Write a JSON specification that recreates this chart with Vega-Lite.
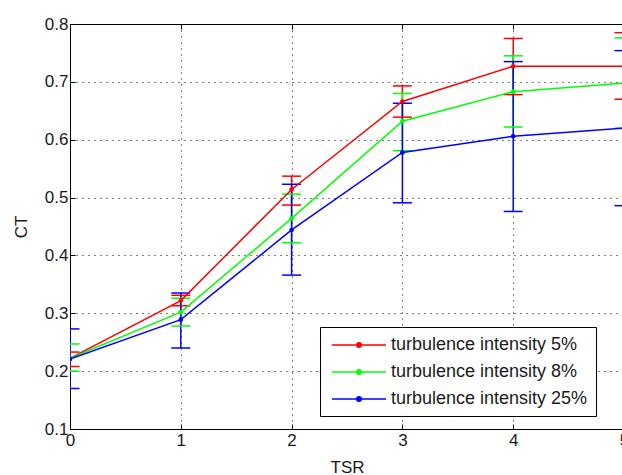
{
  "$schema": "https://vega.github.io/schema/vega-lite/v6.json",
  "width": 554,
  "height": 405,
  "autosize": {"type": "none"},
  "padding": {"left": 70, "top": 24, "right": 0, "bottom": 46},
  "background": "white",
  "data": {
    "values": [
      {"series": "turbulence intensity 5%", "TSR": 0, "CT": 0.222, "lo": 0.208, "hi": 0.233},
      {"series": "turbulence intensity 5%", "TSR": 1, "CT": 0.322, "lo": 0.313, "hi": 0.331},
      {"series": "turbulence intensity 5%", "TSR": 2, "CT": 0.514, "lo": 0.487, "hi": 0.537},
      {"series": "turbulence intensity 5%", "TSR": 3, "CT": 0.666, "lo": 0.639, "hi": 0.693},
      {"series": "turbulence intensity 5%", "TSR": 4, "CT": 0.727, "lo": 0.678, "hi": 0.775},
      {"series": "turbulence intensity 5%", "TSR": 5, "CT": 0.727, "lo": 0.670, "hi": 0.785},
      {"series": "turbulence intensity 8%", "TSR": 0, "CT": 0.222, "lo": 0.200, "hi": 0.247},
      {"series": "turbulence intensity 8%", "TSR": 1, "CT": 0.302, "lo": 0.278, "hi": 0.326},
      {"series": "turbulence intensity 8%", "TSR": 2, "CT": 0.464, "lo": 0.422, "hi": 0.506},
      {"series": "turbulence intensity 8%", "TSR": 3, "CT": 0.632, "lo": 0.581, "hi": 0.680},
      {"series": "turbulence intensity 8%", "TSR": 4, "CT": 0.683, "lo": 0.622, "hi": 0.745},
      {"series": "turbulence intensity 8%", "TSR": 5, "CT": 0.698, "lo": 0.620, "hi": 0.776},
      {"series": "turbulence intensity 25%", "TSR": 0, "CT": 0.221, "lo": 0.170, "hi": 0.273},
      {"series": "turbulence intensity 25%", "TSR": 1, "CT": 0.289, "lo": 0.240, "hi": 0.335},
      {"series": "turbulence intensity 25%", "TSR": 2, "CT": 0.444, "lo": 0.366, "hi": 0.523},
      {"series": "turbulence intensity 25%", "TSR": 3, "CT": 0.578, "lo": 0.491, "hi": 0.663},
      {"series": "turbulence intensity 25%", "TSR": 4, "CT": 0.606, "lo": 0.476, "hi": 0.735},
      {"series": "turbulence intensity 25%", "TSR": 5, "CT": 0.620, "lo": 0.486, "hi": 0.754}
    ]
  },
  "encoding": {
    "color": {
      "field": "series",
      "type": "nominal",
      "sort": null,
      "scale": {
        "domain": ["turbulence intensity 5%", "turbulence intensity 8%", "turbulence intensity 25%"],
        "range": ["#ff0000", "#00ff00", "#0000ff"]
      },
      "legend": {
        "title": null,
        "orient": "none",
        "legendX": 250,
        "legendY": 303,
        "strokeColor": "#000000",
        "fillColor": "#ffffff",
        "padding": 8,
        "rowPadding": 8,
        "labelFont": "Liberation Sans",
        "labelFontSize": 18,
        "labelLimit": 0,
        "labelColor": "#1a1a1a",
        "symbolType": "M-3,0H3M-0.25,0A0.25,0.25,0,1,0,0.25,0A0.25,0.25,0,1,0,-0.25,0Z",
        "symbolSize": 324,
        "symbolStrokeWidth": 1.5,
        "symbolOffset": 21,
        "labelOffset": 22,
        "encode": {
          "symbols": {
            "update": {
              "fill": {"scale": "color", "field": "value"},
              "stroke": {"scale": "color", "field": "value"},
              "opacity": {"value": 1}
            }
          }
        }
      }
    }
  },
  "layer": [
    {
      "mark": {"type": "rule", "strokeWidth": 1.5, "clip": true},
      "encoding": {
        "x": {
          "field": "TSR", "type": "quantitative",
          "scale": {"domain": [0, 5], "nice": false, "zero": false},
          "axis": {"orient": "top", "labels": false, "title": null, "grid": false, "domain": false, "tickSize": -5, "values": [0, 1, 2, 3, 4, 5], "tickColor": "#000000"}
        },
        "y": {
          "field": "lo", "type": "quantitative",
          "scale": {"domain": [0.1, 0.8], "nice": false, "zero": false},
          "axis": null
        },
        "y2": {"field": "hi"}
      }
    },
    {
      "mark": {"type": "tick", "orient": "horizontal", "size": 19, "thickness": 1.5, "clip": true, "opacity": 1},
      "encoding": {
        "x": {"field": "TSR", "type": "quantitative", "axis": null},
        "y": {"field": "lo", "type": "quantitative", "axis": null}
      }
    },
    {
      "mark": {"type": "tick", "orient": "horizontal", "size": 19, "thickness": 1.5, "clip": true, "opacity": 1},
      "encoding": {
        "x": {"field": "TSR", "type": "quantitative", "axis": null},
        "y": {"field": "hi", "type": "quantitative", "axis": null}
      }
    },
    {
      "mark": {"type": "line", "strokeWidth": 1.5, "clip": true, "point": {"filled": true, "size": 22, "opacity": 1}},
      "encoding": {
        "x": {
          "field": "TSR", "type": "quantitative",
          "axis": {"orient": "bottom", "title": "TSR", "grid": true, "values": [0, 1, 2, 3, 4, 5], "format": "d", "tickSize": -5, "labelPadding": 8, "titlePadding": 11}
        },
        "y": {
          "field": "CT", "type": "quantitative",
          "axis": {"orient": "left", "title": "CT", "grid": true, "values": [0.1, 0.2, 0.3, 0.4, 0.5, 0.6, 0.7, 0.8], "format": ".1f", "tickSize": -5, "labelPadding": 7, "titlePadding": 14}
        }
      }
    }
  ],
  "resolve": {"axis": {"x": "independent", "y": "independent"}},
  "config": {
    "view": {"stroke": "#000000", "strokeWidth": 1},
    "font": "Liberation Sans",
    "axis": {
      "domainColor": "#000000",
      "domainWidth": 1,
      "tickColor": "#000000",
      "tickWidth": 1,
      "labelFont": "Liberation Sans",
      "labelFontSize": 17,
      "labelColor": "#1a1a1a",
      "titleFont": "Liberation Sans",
      "titleFontSize": 17,
      "titleFontWeight": "normal",
      "titleColor": "#1a1a1a",
      "gridColor": "#000000",
      "gridOpacity": 1,
      "gridWidth": 1,
      "gridDash": [1, 5],
      "labelFlush": false,
      "labelOverlap": false
    }
  }
}
